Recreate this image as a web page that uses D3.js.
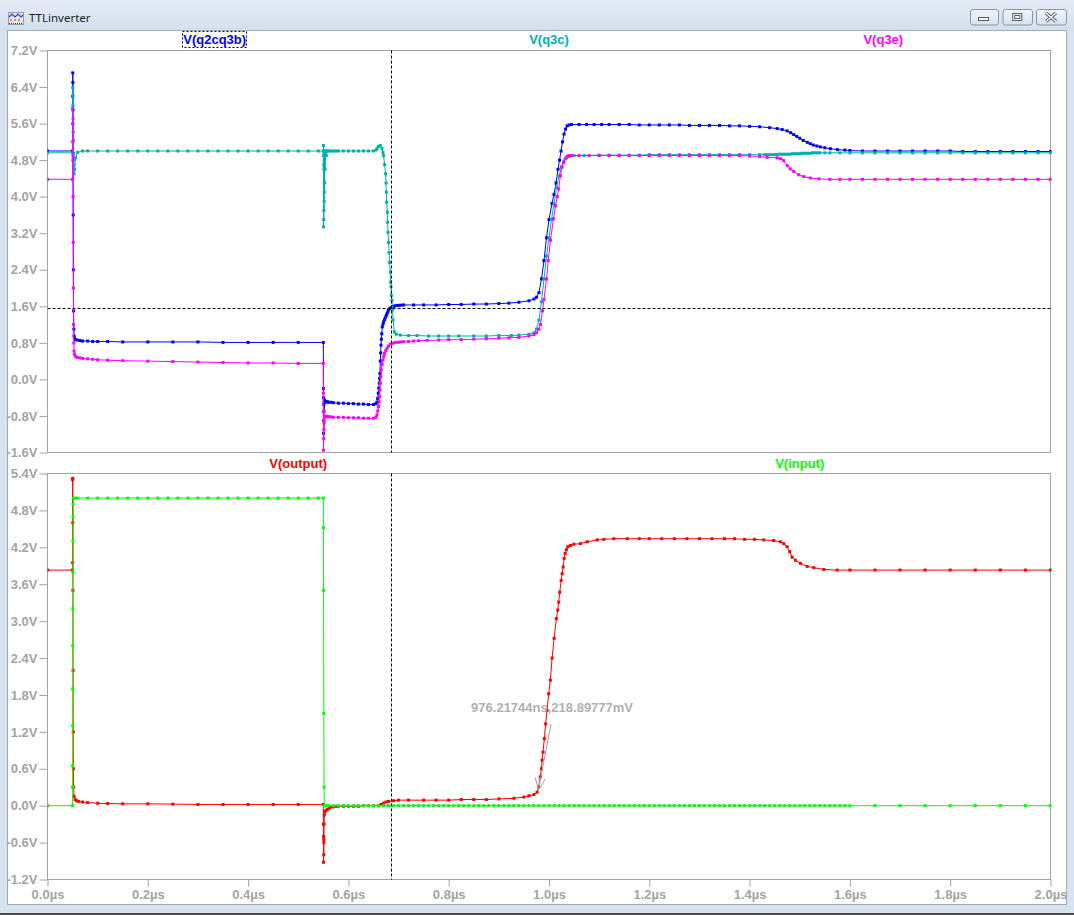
<!DOCTYPE html>
<html><head><meta charset="utf-8">
<script src="https://cdn.jsdelivr.net/npm/d3@7"></script>
<style>body{margin:0;background:#fff}svg{display:block}</style>
</head><body><svg id="c" width="1074" height="915"></svg>
<script>
// ---------- data ----------
const windowTitle = "TTLinverter";
const xTicks = [0,0.2,0.4,0.6,0.8,1.0,1.2,1.4,1.6,1.8,2.0];
const topTicks = [-1.6,-0.8,0,0.8,1.6,2.4,3.2,4.0,4.8,5.6,6.4,7.2];
const botTicks = [-1.2,-0.6,0,0.6,1.2,1.8,2.4,3.0,3.6,4.2,4.8,5.4];
const topNames = ["V(q2cq3b)","V(q3c)","V(q3e)"];
const botNames = ["V(output)","V(input)"];
const cursorT = 0.6855, cursorV = 1.56;
const annT = 0.97621744, annV = 0.21889777;
const annText = "976.21744ns,218.89777mV";

const q2cq3b = [[0,5.0],[0.05,5.0],[0.0502,6.2],[0.0504,6.71],[0.0506,6.5],[0.0508,5.9],[0.051,4.8],[0.0513,3.6],[0.0516,2.4],[0.052,1.5],[0.0525,1.1],[0.053,0.95],[0.054,0.9],[0.056,0.87],[0.06,0.86],[0.065,0.85],[0.07,0.84],[0.08,0.84],[0.09,0.83],[0.1,0.83],[0.12,0.83],[0.15,0.82],[0.2,0.82],[0.25,0.82],[0.3,0.82],[0.35,0.81],[0.4,0.81],[0.45,0.81],[0.5,0.81],[0.55,0.81],[0.5502,-0.2],[0.5504,-1.18],[0.5506,-0.4],[0.5508,-0.9],[0.551,-0.55],[0.5512,-0.7],[0.5515,-0.5],[0.552,-0.45],[0.553,-0.5],[0.555,-0.48],[0.558,-0.49],[0.56,-0.5],[0.565,-0.5],[0.57,-0.51],[0.58,-0.52],[0.59,-0.52],[0.6,-0.53],[0.61,-0.53],[0.62,-0.54],[0.63,-0.54],[0.64,-0.55],[0.65,-0.55],[0.655,-0.53],[0.657,-0.5],[0.6583,-0.42],[0.6596,-0.3],[0.6606,-0.19],[0.6616,-0.08],[0.6622,0.02],[0.6629,0.13],[0.6636,0.4],[0.6643,0.58],[0.665,0.75],[0.6658,0.88],[0.6665,1.0],[0.6676,1.15],[0.669,1.21],[0.6703,1.26],[0.672,1.31],[0.6737,1.35],[0.6755,1.4],[0.677,1.44],[0.6786,1.48],[0.6802,1.52],[0.6825,1.55],[0.685,1.57],[0.6875,1.59],[0.6902,1.6],[0.693,1.61],[0.697,1.62],[0.70,1.62],[0.705,1.625],[0.71,1.63],[0.73,1.63],[0.75,1.63],[0.775,1.63],[0.8,1.64],[0.825,1.64],[0.85,1.65],[0.875,1.65],[0.9,1.66],[0.92,1.67],[0.94,1.69],[0.96,1.72],[0.97,1.76],[0.975,1.8],[0.98,1.9],[0.985,2.2],[0.99,2.6],[0.995,3.1],[1.0,3.5],[1.006,3.85],[1.01,4.05],[1.014,4.3],[1.018,4.6],[1.021,4.8],[1.024,5.0],[1.027,5.2],[1.03,5.37],[1.033,5.48],[1.036,5.55],[1.04,5.57],[1.045,5.58],[1.06,5.58],[1.075,5.58],[1.09,5.58],[1.105,5.58],[1.12,5.58],[1.14,5.58],[1.16,5.58],[1.18,5.57],[1.2,5.57],[1.22,5.57],[1.24,5.57],[1.26,5.57],[1.28,5.56],[1.3,5.56],[1.32,5.56],[1.34,5.56],[1.36,5.55],[1.38,5.55],[1.4,5.54],[1.42,5.53],[1.44,5.51],[1.455,5.49],[1.465,5.47],[1.475,5.44],[1.482,5.4],[1.488,5.36],[1.494,5.32],[1.5,5.28],[1.507,5.23],[1.515,5.19],[1.521,5.16],[1.527,5.13],[1.534,5.11],[1.541,5.09],[1.55,5.07],[1.561,5.05],[1.575,5.03],[1.59,5.02],[1.6,5.01],[1.625,5.0],[1.65,5.0],[1.675,5.0],[1.7,5.0],[1.725,5.0],[1.75,5.0],[1.775,5.0],[1.8,5.0],[1.825,4.99],[1.85,4.99],[1.875,4.99],[1.9,4.99],[1.925,4.99],[1.95,4.99],[1.975,4.99],[2.0,4.99]];

const q3c = [[0,4.96],[0.05,4.96],[0.0502,5.6],[0.0504,6.39],[0.0506,6.21],[0.0508,5.99],[0.051,5.71],[0.0513,5.41],[0.0516,5.23],[0.052,4.95],[0.0525,4.7],[0.053,4.5],[0.054,4.6],[0.056,4.85],[0.06,4.97],[0.07,5.0],[0.08,5.0],[0.1,5.0],[0.12,5.0],[0.14,5.0],[0.16,5.0],[0.18,5.0],[0.2,5.0],[0.22,5.0],[0.24,5.0],[0.26,5.0],[0.28,5.0],[0.3,5.0],[0.32,5.0],[0.34,5.0],[0.36,5.0],[0.38,5.0],[0.4,5.0],[0.42,5.0],[0.44,5.0],[0.46,5.0],[0.48,5.0],[0.5,5.0],[0.52,5.0],[0.54,5.0],[0.55,5.0],[0.5502,5.12],[0.5504,3.34],[0.5506,4.9],[0.5508,3.5],[0.551,4.7],[0.5512,3.7],[0.5514,4.6],[0.5516,3.9],[0.5518,4.8],[0.552,4.1],[0.5523,4.95],[0.5526,4.3],[0.553,5.0],[0.5535,4.6],[0.554,5.0],[0.556,4.9],[0.558,5.0],[0.56,5.0],[0.565,5.0],[0.57,5.0],[0.575,5.0],[0.58,5.0],[0.59,5.0],[0.6,5.0],[0.61,5.0],[0.62,5.0],[0.63,5.0],[0.64,5.0],[0.65,5.0],[0.655,5.02],[0.657,5.05],[0.66,5.1],[0.6636,5.12],[0.667,5.05],[0.669,4.97],[0.6702,4.9],[0.6722,4.7],[0.6742,4.5],[0.675,4.3],[0.6756,4.1],[0.6762,3.88],[0.6776,3.66],[0.6782,3.44],[0.679,3.22],[0.6802,3.0],[0.681,2.78],[0.6822,2.56],[0.6836,2.35],[0.6842,2.13],[0.685,2.03],[0.6856,1.84],[0.687,1.73],[0.6882,1.52],[0.689,1.3],[0.6915,1.04],[0.6955,0.99],[0.7035,0.97],[0.72,0.96],[0.737,0.96],[0.76,0.95],[0.78,0.95],[0.8,0.95],[0.82,0.95],[0.85,0.95],[0.875,0.95],[0.9,0.96],[0.925,0.96],[0.94,0.97],[0.96,0.99],[0.97,1.02],[0.975,1.1],[0.98,1.3],[0.985,1.7],[0.99,2.2],[0.995,2.7],[1.0,3.1],[1.005,3.5],[1.01,3.85],[1.015,4.2],[1.02,4.45],[1.025,4.65],[1.03,4.78],[1.035,4.85],[1.04,4.88],[1.05,4.9],[1.07,4.9],[1.1,4.91],[1.12,4.91],[1.14,4.91],[1.16,4.91],[1.18,4.91],[1.2,4.92],[1.22,4.92],[1.24,4.92],[1.26,4.92],[1.28,4.92],[1.3,4.92],[1.32,4.92],[1.34,4.92],[1.36,4.92],[1.38,4.92],[1.4,4.92],[1.42,4.92],[1.43,4.92],[1.435,4.92],[1.44,4.92],[1.445,4.92],[1.45,4.92],[1.455,4.92],[1.46,4.93],[1.465,4.93],[1.47,4.93],[1.475,4.93],[1.48,4.93],[1.485,4.94],[1.49,4.94],[1.495,4.94],[1.5,4.94],[1.505,4.95],[1.51,4.95],[1.515,4.95],[1.52,4.95],[1.525,4.96],[1.53,4.96],[1.535,4.96],[1.54,4.96],[1.55,4.96],[1.56,4.96],[1.58,4.96],[1.6,4.96],[1.625,4.96],[1.65,4.96],[1.675,4.96],[1.7,4.96],[1.725,4.96],[1.75,4.96],[1.775,4.96],[1.8,4.96],[1.825,4.96],[1.85,4.96],[1.875,4.96],[1.9,4.96],[1.925,4.96],[1.95,4.96],[1.975,4.96],[2.0,4.96]];

const q3e = [[0,4.38],[0.05,4.38],[0.0502,5.2],[0.0504,5.93],[0.0506,5.6],[0.0508,4.9],[0.051,4.0],[0.0513,3.0],[0.0516,2.0],[0.052,1.2],[0.0525,0.8],[0.053,0.62],[0.054,0.55],[0.056,0.5],[0.06,0.48],[0.065,0.47],[0.07,0.46],[0.08,0.45],[0.09,0.44],[0.1,0.43],[0.12,0.42],[0.15,0.41],[0.2,0.4],[0.25,0.39],[0.3,0.38],[0.35,0.37],[0.4,0.36],[0.45,0.36],[0.5,0.35],[0.55,0.35],[0.5502,-0.3],[0.5504,-1.55],[0.5506,-0.7],[0.5508,-1.3],[0.551,-0.9],[0.5512,-1.1],[0.5515,-0.95],[0.552,-0.8],[0.553,-0.82],[0.555,-0.81],[0.558,-0.81],[0.56,-0.82],[0.565,-0.82],[0.57,-0.83],[0.58,-0.83],[0.59,-0.83],[0.6,-0.84],[0.61,-0.84],[0.62,-0.84],[0.63,-0.85],[0.64,-0.85],[0.65,-0.85],[0.655,-0.83],[0.657,-0.777],[0.6585,-0.69],[0.66,-0.595],[0.661,-0.49],[0.662,-0.376],[0.663,-0.23],[0.6636,-0.084],[0.6646,0.06],[0.6656,0.207],[0.6672,0.33],[0.669,0.425],[0.6705,0.5],[0.672,0.571],[0.6745,0.63],[0.677,0.68],[0.68,0.73],[0.6836,0.774],[0.688,0.79],[0.6936,0.81],[0.7,0.815],[0.705,0.82],[0.7101,0.825],[0.72,0.83],[0.73,0.84],[0.74,0.845],[0.757,0.855],[0.78,0.86],[0.8,0.87],[0.825,0.87],[0.85,0.88],[0.875,0.89],[0.9,0.9],[0.92,0.91],[0.94,0.92],[0.96,0.95],[0.97,0.98],[0.975,1.02],[0.98,1.1],[0.983,1.2],[0.987,1.5],[0.99,1.75],[0.995,2.2],[0.9985,2.6],[1.003,3.05],[1.009,3.52],[1.013,3.8],[1.0165,4.0],[1.0193,4.17],[1.0227,4.46],[1.026,4.65],[1.0292,4.75],[1.0326,4.83],[1.036,4.88],[1.0392,4.9],[1.045,4.9],[1.06,4.9],[1.08,4.9],[1.1,4.9],[1.12,4.9],[1.14,4.9],[1.16,4.9],[1.18,4.9],[1.2,4.9],[1.22,4.9],[1.24,4.9],[1.26,4.9],[1.28,4.9],[1.3,4.9],[1.32,4.9],[1.34,4.9],[1.36,4.9],[1.38,4.9],[1.4,4.89],[1.42,4.88],[1.435,4.86],[1.455,4.85],[1.462,4.83],[1.468,4.79],[1.475,4.68],[1.481,4.61],[1.488,4.55],[1.498,4.48],[1.508,4.44],[1.521,4.41],[1.538,4.39],[1.56,4.38],[1.58,4.38],[1.6,4.38],[1.625,4.38],[1.65,4.38],[1.675,4.38],[1.7,4.38],[1.725,4.38],[1.75,4.38],[1.775,4.38],[1.8,4.38],[1.825,4.38],[1.85,4.38],[1.875,4.38],[1.9,4.38],[1.925,4.38],[1.95,4.38],[1.975,4.38],[2.0,4.38]];

const output = [[0,3.83],[0.05,3.83],[0.0501,3.95],[0.0502,5.3],[0.0503,5.32],[0.0505,4.6],[0.0507,3.5],[0.051,2.2],[0.0513,1.2],[0.0516,0.6],[0.052,0.3],[0.053,0.15],[0.055,0.1],[0.058,0.08],[0.062,0.07],[0.07,0.06],[0.08,0.05],[0.1,0.04],[0.12,0.035],[0.15,0.03],[0.2,0.03],[0.25,0.025],[0.3,0.02],[0.35,0.02],[0.4,0.02],[0.45,0.02],[0.5,0.02],[0.55,0.02],[0.5502,-0.3],[0.5504,-0.92],[0.5506,-0.5],[0.5508,-0.8],[0.551,-0.55],[0.5512,-0.6],[0.5515,-0.3],[0.552,-0.15],[0.553,-0.1],[0.555,-0.08],[0.558,-0.06],[0.562,-0.04],[0.566,-0.02],[0.57,-0.02],[0.575,-0.01],[0.58,-0.01],[0.59,-0.01],[0.6,-0.01],[0.61,-0.01],[0.62,-0.01],[0.63,0.0],[0.64,0.0],[0.65,0.0],[0.66,0.0],[0.665,0.02],[0.67,0.04],[0.675,0.06],[0.68,0.07],[0.69,0.08],[0.7,0.09],[0.72,0.09],[0.75,0.09],[0.775,0.09],[0.8,0.09],[0.825,0.1],[0.85,0.1],[0.875,0.1],[0.9,0.11],[0.93,0.12],[0.95,0.14],[0.96,0.16],[0.97,0.18],[0.97621744,0.21889777],[0.9794,0.305],[0.9827,0.47],[0.9848,0.6],[0.9862,0.74],[0.9881,0.87],[0.9907,1.09],[0.9933,1.33],[0.9961,1.55],[0.9993,1.82],[1.0027,2.04],[1.0062,2.4],[1.0102,2.72],[1.0147,3.04],[1.0174,3.18],[1.0194,3.31],[1.0214,3.47],[1.0242,3.66],[1.0262,3.77],[1.0282,3.88],[1.0302,4.02],[1.0322,4.1],[1.0348,4.16],[1.0374,4.21],[1.0428,4.23],[1.0494,4.25],[1.0627,4.26],[1.0761,4.29],[1.0961,4.32],[1.1093,4.33],[1.1293,4.34],[1.156,4.34],[1.18,4.34],[1.2,4.34],[1.225,4.34],[1.25,4.34],[1.275,4.34],[1.3,4.34],[1.325,4.34],[1.35,4.34],[1.37,4.34],[1.39,4.33],[1.41,4.33],[1.4282,4.32],[1.4481,4.31],[1.4615,4.29],[1.4681,4.26],[1.4748,4.21],[1.48,4.13],[1.4848,4.04],[1.4914,3.99],[1.5013,3.94],[1.5147,3.89],[1.5279,3.87],[1.5478,3.84],[1.5746,3.83],[1.6,3.83],[1.65,3.83],[1.7,3.83],[1.75,3.83],[1.8,3.83],[1.85,3.83],[1.9,3.83],[1.95,3.83],[2.0,3.83]];

const input = [[0,0],[0.05,0],[0.0501,0.3],[0.0502,0.65],[0.0503,1.3],[0.0504,1.9],[0.0505,2.6],[0.0506,3.2],[0.0507,3.8],[0.0508,4.3],[0.0509,4.7],[0.051,4.9],[0.052,5.0],[0.055,5.0],[0.06,5.0],[0.08,5.0],[0.1,5.0],[0.12,5.0],[0.14,5.0],[0.16,5.0],[0.18,5.0],[0.2,5.0],[0.22,5.0],[0.24,5.0],[0.26,5.0],[0.28,5.0],[0.3,5.0],[0.32,5.0],[0.34,5.0],[0.36,5.0],[0.38,5.0],[0.4,5.0],[0.42,5.0],[0.44,5.0],[0.46,5.0],[0.48,5.0],[0.5,5.0],[0.52,5.0],[0.54,5.0],[0.55,5.0],[0.5502,4.52],[0.5505,3.5],[0.551,1.5],[0.5515,0.3],[0.552,0],[0.556,0],[0.56,0],[0.57,0],[0.58,0],[0.59,0],[0.6,0],[0.61,0],[0.62,0],[0.63,0],[0.64,0],[0.65,0],[0.66,0],[0.67,0],[0.68,0],[0.69,0],[0.7,0],[0.71,0],[0.72,0],[0.73,0],[0.74,0],[0.75,0],[0.76,0],[0.77,0],[0.78,0],[0.79,0],[0.8,0],[0.81,0],[0.82,0],[0.83,0],[0.84,0],[0.85,0],[0.86,0],[0.87,0],[0.88,0],[0.89,0],[0.9,0],[0.91,0],[0.92,0],[0.93,0],[0.94,0],[0.95,0],[0.96,0],[0.97,0],[0.98,0],[0.99,0],[1.0,0],[1.01,0],[1.02,0],[1.03,0],[1.04,0],[1.05,0],[1.06,0],[1.07,0],[1.08,0],[1.09,0],[1.1,0],[1.11,0],[1.12,0],[1.13,0],[1.14,0],[1.15,0],[1.16,0],[1.17,0],[1.18,0],[1.19,0],[1.2,0],[1.21,0],[1.22,0],[1.23,0],[1.24,0],[1.25,0],[1.26,0],[1.27,0],[1.28,0],[1.29,0],[1.3,0],[1.31,0],[1.32,0],[1.33,0],[1.34,0],[1.35,0],[1.36,0],[1.37,0],[1.38,0],[1.39,0],[1.4,0],[1.41,0],[1.42,0],[1.43,0],[1.44,0],[1.45,0],[1.46,0],[1.47,0],[1.48,0],[1.49,0],[1.5,0],[1.51,0],[1.52,0],[1.53,0],[1.54,0],[1.55,0],[1.56,0],[1.57,0],[1.58,0],[1.59,0],[1.6,0],[1.65,0],[1.7,0],[1.75,0],[1.8,0],[1.85,0],[1.9,0],[1.95,0],[2.0,0]];

const colors = {blue:"#0000ff", teal:"#00aeae", magenta:"#ff00ff", red:"#ff0000", green:"#00ff00"};

// ---------- layout ----------
const svg = d3.select("#c");
const X0 = 47.5, X1 = 1050.5;
const TOP = [50.5, 452.5], BOT = [473.5, 879.5];
const axisGray = "#a3a3a3";
const FONT = "'Liberation Sans', Arial, sans-serif";

const x = d3.scaleLinear().domain([0,2]).range([X0, X1]);
const yT = d3.scaleLinear().domain([-1.6,7.2]).range([TOP[1], TOP[0]]);
const yB = d3.scaleLinear().domain([-1.2,5.4]).range([BOT[1], BOT[0]]);

// ---------- window chrome ----------
const defs = svg.append("defs");
const tg = defs.append("linearGradient").attr("id","tb").attr("x1",0).attr("y1",0).attr("x2",0).attr("y2",1);
tg.append("stop").attr("offset","0%").attr("stop-color","#e4ecf6");
tg.append("stop").attr("offset","100%").attr("stop-color","#d3dfed");
const bg = defs.append("linearGradient").attr("id","btn").attr("x1",0).attr("y1",0).attr("x2",0).attr("y2",1);
bg.append("stop").attr("offset","0%").attr("stop-color","#f3f6fa");
bg.append("stop").attr("offset","100%").attr("stop-color","#d6e0ec");

svg.append("rect").attr("width",1074).attr("height",915).attr("fill","#d7e3f1");
svg.append("rect").attr("width",1074).attr("height",31).attr("fill","url(#tb)");
svg.append("rect").attr("x",7.5).attr("y",30.5).attr("width",1059).attr("height",874).attr("fill","#fff").attr("stroke","#9ea9b6");
svg.append("rect").attr("x",0).attr("y",913).attr("width",1074).attr("height",2).attr("fill","#4a4a4a");

// icon
const ic = svg.append("g").attr("transform","translate(8,12)");
ic.append("rect").attr("x",0.5).attr("y",0.5).attr("width",15).attr("height",12).attr("fill","#e6e6e6").attr("stroke","#9a9a9a");
ic.append("path").attr("d","M1,5 L4,2 L7,5 L10,2 L13,5 L15,3").attr("fill","none").attr("stroke","#2040d0").attr("stroke-width",1.2);
ic.append("path").attr("d","M2,8 h2 M6,8 h2 M10,8 h2").attr("stroke","#e02020").attr("stroke-width",1.2);
ic.append("path").attr("d","M1,11.5 h14").attr("stroke","#444").attr("stroke-dasharray","1,1");
svg.append("text").attr("x",29).attr("y",21.5).attr("font-family","'Noto Sans', 'Open Sans', sans-serif").attr("font-size",11.5).attr("fill","#1e1e1e").text(windowTitle);

// buttons
[[970,998],[1002.5,1032],[1036,1066]].forEach(([a,b],i)=>{
  svg.append("rect").attr("x",a+0.5).attr("y",9.5).attr("width",b-a).attr("height",15.5).attr("rx",2.5)
    .attr("fill","url(#btn)").attr("stroke","#8895a7");
  const cx=(a+b)/2;
  if(i===0) svg.append("rect").attr("x",cx-5.5).attr("y",17.5).attr("width",10).attr("height",3).attr("fill","#fff").attr("stroke","#505a68");
  if(i===1){ svg.append("rect").attr("x",cx-4.5).attr("y",13.5).attr("width",9).attr("height",7).attr("fill","#fff").attr("stroke","#505a68");
             svg.append("rect").attr("x",cx-2.5).attr("y",15.5).attr("width",5).attr("height",3).attr("fill","none").attr("stroke","#505a68");}
  if(i===2){ svg.append("path").attr("d",`M${cx-5},13 L${cx+5},21.5 M${cx+5},13 L${cx-5},21.5`).attr("stroke","#505a68").attr("stroke-width",3.2);
             svg.append("path").attr("d",`M${cx-5},13 L${cx+5},21.5 M${cx+5},13 L${cx-5},21.5`).attr("stroke","#fff").attr("stroke-width",1.4);}
});

// ---------- plots ----------
function panel(yScale, yRange, ticks, id){
  const g = svg.append("g");
  g.append("rect").attr("x",X0).attr("y",yRange[0]).attr("width",X1-X0).attr("height",yRange[1]-yRange[0])
    .attr("fill","none").attr("stroke",axisGray);
  const ax = g.append("g").attr("transform",`translate(${X0},0)`)
    .call(d3.axisLeft(yScale).tickValues(ticks).tickFormat(d=>d.toFixed(1)+"V").tickSize(8).tickPadding(2));
  ax.select(".domain").remove();
  ax.selectAll("line").attr("stroke",axisGray);
  ax.selectAll("text").attr("fill",axisGray).attr("font-family",FONT).attr("font-size",13).attr("font-weight","bold");
  defs.append("clipPath").attr("id",id).append("rect").attr("x",X0).attr("y",yRange[0]-1).attr("width",X1-X0+1).attr("height",yRange[1]-yRange[0]+2);
  return g.append("g").attr("clip-path",`url(#${id})`);
}
const gTop = panel(yT, TOP, topTicks, "clipT");
const gBot = panel(yB, BOT, botTicks, "clipB");

// x axis on bottom panel
const xa = svg.append("g").attr("transform",`translate(0,${BOT[1]})`)
  .call(d3.axisBottom(x).tickValues(xTicks).tickFormat(d=>d.toFixed(1)+"µs").tickSize(7).tickPadding(3));
xa.select(".domain").remove();
xa.selectAll("line").attr("stroke",axisGray);
xa.selectAll("text").attr("fill",axisGray).attr("font-family",FONT).attr("font-size",13).attr("font-weight","bold");

function series(g, data, yScale, color){
  g.append("path").datum(data)
    .attr("d", d3.line().x(d=>x(d[0])).y(d=>yScale(d[1])))
    .attr("fill","none").attr("stroke",color).attr("stroke-width",1);
  g.append("g").selectAll("rect").data(data).join("rect")
    .attr("x",d=>x(d[0])-1.5).attr("y",d=>yScale(d[1])-1.5).attr("width",3).attr("height",3).attr("fill",color);
}
series(gTop, q2cq3b, yT, colors.blue);
series(gTop, q3c, yT, colors.teal);
series(gTop, q3e, yT, colors.magenta);
series(gBot, output, yB, colors.red);
series(gBot, input, yB, colors.green);

// cursors
gTop.append("line").attr("x1",Math.round(x(cursorT))+0.5).attr("x2",Math.round(x(cursorT))+0.5).attr("y1",TOP[0]).attr("y2",TOP[1])
  .attr("stroke","#000").attr("stroke-dasharray","3,2");
gBot.append("line").attr("x1",Math.round(x(cursorT))+0.5).attr("x2",Math.round(x(cursorT))+0.5).attr("y1",BOT[0]).attr("y2",BOT[1])
  .attr("stroke","#000").attr("stroke-dasharray","3,2");
gTop.append("line").attr("x1",X0).attr("x2",X1).attr("y1",Math.round(yT(cursorV))+0.5).attr("y2",Math.round(yT(cursorV))+0.5)
  .attr("stroke","#000").attr("stroke-dasharray","3,2");

// legends
const tw = X1-X0;
const lt = svg.append("g").attr("font-family",FONT).attr("font-size",13).attr("font-weight","bold").attr("text-anchor","middle");
[colors.blue, colors.teal, colors.magenta].forEach((c,i)=>{
  lt.append("text").attr("x",X0+tw*(2*i+1)/6).attr("y",43.5).attr("fill",c).text(topNames[i]);
});
[colors.red, colors.green].forEach((c,i)=>{
  lt.append("text").attr("x",X0+tw*(2*i+1)/4).attr("y",468).attr("fill",c).text(botNames[i]);
});
// dashed selection box around first legend
const bb = lt.select("text").node().getBBox();
svg.append("rect").attr("x",Math.round(bb.x)-0.5).attr("y",31.5).attr("width",Math.round(bb.width)+1).attr("height",16)
  .attr("fill","none").attr("stroke","#000").attr("stroke-dasharray","2,2");

// annotation
const px = x(annT), py = yB(annV);
const ag = svg.append("g");
ag.append("text").attr("x",px+15).attr("y",py-80).attr("text-anchor","middle").attr("font-family",FONT)
  .attr("font-size",13).attr("font-weight","bold").attr("fill","#b0b0b0").text(annText);
ag.append("path").attr("d",`M${px+14},${py-68} L${px+1},${py-1} M${px-2},${py-15} L${px+1},${py-4} M${px+8},${py-13} L${px+3},${py-4}`)
  .attr("stroke","#a0a0a0").attr("fill","none").attr("stroke-width",1);
</script>
</body></html>
